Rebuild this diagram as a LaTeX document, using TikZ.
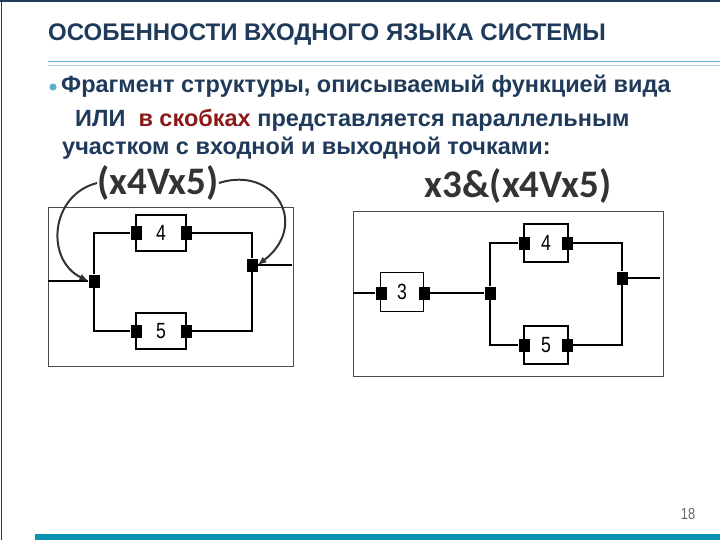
\documentclass[tikz,border=0pt]{standalone}
\usepackage{fontspec}
\setmainfont{Liberation Sans}
\newfontfamily\calib{Carlito}
\usepackage{tikz}
\usetikzlibrary{arrows,shapes,positioning}
\definecolor{navy}{HTML}{1F3A5A}
\definecolor{brick}{HTML}{8B1A1A}
\definecolor{teal}{HTML}{0A94B4}
\definecolor{rule}{HTML}{5AAFD0}

\begin{document}
\begin{tikzpicture}[x=1pt,y=-1pt]
            \tikzstyle{block}=[rectangle,draw,line width=1.6pt,minimum width=50pt,minimum height=36pt,inner sep=0pt,font=\fontsize{22}{22}\selectfont]
            \tikzstyle{pin}=[rectangle,fill=black,minimum width=11pt,minimum height=13pt,inner sep=0pt]
            \tikzstyle{wire}=[line width=1.6pt]
            \tikzstyle{frame}=[draw=black!70,thick]
            \tikzstyle{txt}=[anchor=west,inner sep=0pt,font=\bfseries\fontsize{23.5}{24}\selectfont,text=navy]
            \tikzstyle{formula}=[inner sep=0pt,font=\calib\bfseries\fontsize{39}{39}\selectfont,text=black!80]

            \useasboundingbox (0,0) rectangle (720,540);
            \draw[navy,line width=1.5pt] (1.5,0) -- (1.5,540);
            \draw[navy,line width=1.5pt] (0,1) -- (720,1);

            % heading
            \node[txt,font=\bfseries\fontsize{24}{24}\selectfont] (title) at (48,35) {ОСОБЕННОСТИ ВХОДНОГО ЯЗЫКА СИСТЕМЫ};
            \draw[rule,line width=1pt] (48,62) -- (720,62);
            \draw[rule!50,line width=0.8pt] (48,65) -- (720,65);

            % text
            \node[circle,fill=rule,inner sep=2.5pt] (dot) at (53,87) {};
            \node[txt] (l1) at (61,86) {Фрагмент структуры, описываемый функцией вида};
            \node[txt] (l2) at (75,120) {ИЛИ\ \ \textcolor{brick}{в скобках} представляется параллельным};
            \node[txt] (l3) at (62,148) {участком с входной и выходной точками:};

            \node[formula] (f1) at (158,183) {(x4Vx5)};
            \node[formula] (f2) at (518,186) {x3\&(x4Vx5)};

            % left scheme
            \draw[frame] (48,207) rectangle (293,366);
            \node[block] (b4) at (161,233) {\scalebox{0.8}[1]{4}};
            \node[block] (b5) at (161,331) {\scalebox{0.8}[1]{5}};
            \node[pin] (b4i) at (136,233) {};
            \node[pin] (b4o) at (186,233) {};
            \node[pin] (b5i) at (136,331) {};
            \node[pin] (b5o) at (186,331) {};
            \node[pin] (in) at (94,281) {};
            \node[pin] (out) at (252,265) {};
            \coordinate (inL) at (48,281);
            \coordinate (outR) at (292,265);
            \draw[wire] (inL) -- (in);
            \draw[wire] (out) -- (outR);
            \draw[wire] (b4i) -| (in) |- (b5i);
            \draw[wire] (b4o) -| (out) |- (b5o);

            \draw[-latex,line width=2pt,black!80] (f1.west) .. controls (50,195) and (45,260) .. (in.west);
            \draw[-latex,line width=2pt,black!80] (f1.east) .. controls (275,165) and (310,225) .. (out.east);

            % right scheme
            \draw[frame] (353,211) rectangle (663,376);
            \node[block,minimum width=43pt,minimum height=39pt] (b3) at (402,292) {\scalebox{0.8}[1]{3}};
            \node[block,minimum width=44pt,minimum height=38pt] (c4) at (546,243) {\scalebox{0.8}[1]{4}};
            \node[block,minimum width=44pt,minimum height=38pt] (c5) at (546,345) {\scalebox{0.8}[1]{5}};
            \node[pin] (b3i) at (381,293) {};
            \node[pin] (b3o) at (424,293) {};
            \node[pin] (c4i) at (524,243) {};
            \node[pin] (c4o) at (567,243) {};
            \node[pin] (c5i) at (524,345) {};
            \node[pin] (c5o) at (567,345) {};
            \node[pin] (split) at (490,293) {};
            \node[pin] (join) at (622,278) {};
            \coordinate (inL2) at (353,293);
            \coordinate (outR2) at (660,278);
            \draw[wire] (inL2) -- (b3i);
            \draw[wire] (b3o) -- (split);
            \draw[wire] (c4i) -| (split) |- (c5i);
            \draw[wire] (c4o) -| (join) |- (c5o);
            \draw[wire] (join) -- (outR2);

            % footer
            \node[inner sep=0pt,text=black!60,font=\fontsize{16}{16}\selectfont] (page) at (688,514) {\scalebox{0.8}[1]{18}};
            \fill[teal] (35,534) rectangle (720,540);
        \end{tikzpicture}
\end{document}
